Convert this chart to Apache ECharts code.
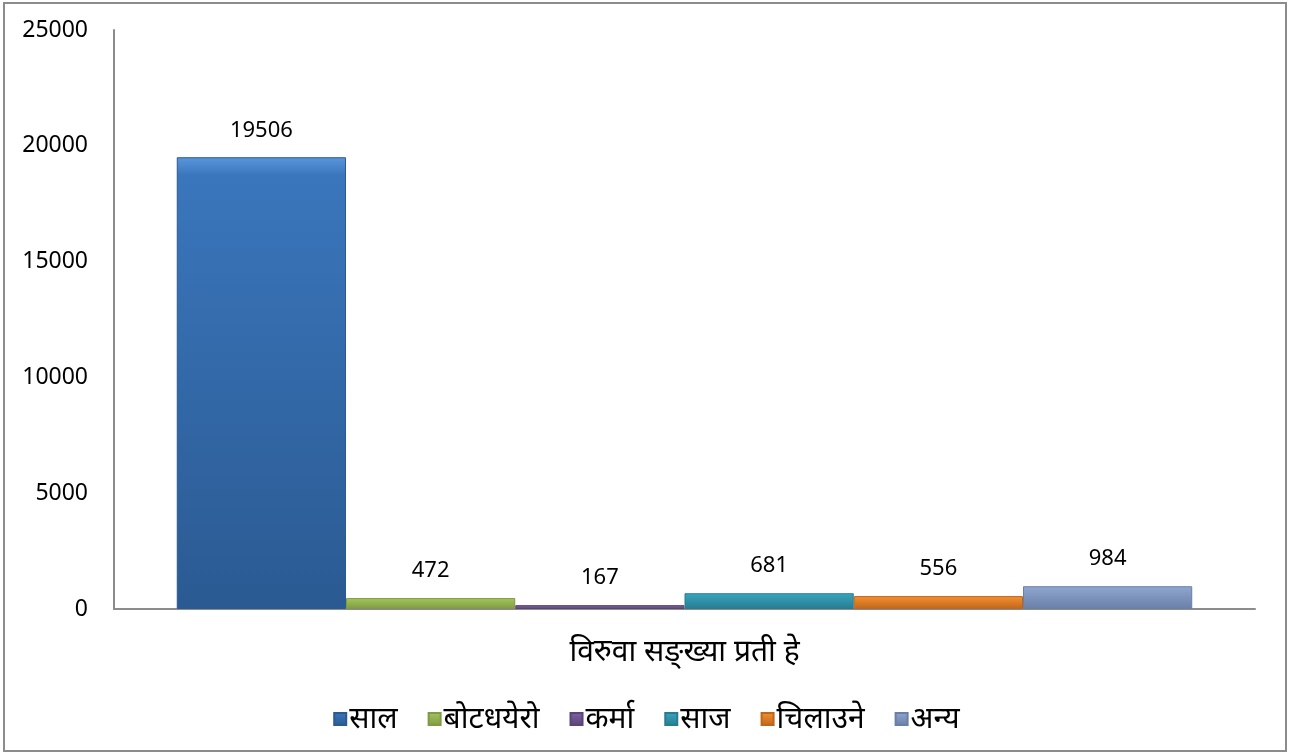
<!DOCTYPE html>
<html>
<head>
<meta charset="utf-8">
<script src="https://cdn.jsdelivr.net/npm/echarts@6/dist/echarts.min.js"></script>
<style>
html,body{margin:0;padding:0;background:#fff;}
#wrap{position:absolute;left:3px;top:2px;width:1284px;height:750px;border:2px solid #8c8c8c;box-sizing:border-box;}
#c{position:absolute;left:0;top:0;width:1293px;height:753px;}
</style>
</head>
<body>
<div id="wrap"></div>
<div id="c"></div>
<script>
const categories = ['विरुवा सङ्ख्या प्रती हे'];
const seriesNames = ['साल', 'बोटधयेरो', 'कर्मा', 'साज', 'चिलाउने', 'अन्य'];
const seriesValues = [19506, 472, 167, 681, 556, 984];
const yTicks = [0, 5000, 10000, 15000, 20000, 25000];

const palette = [
  ['#5a96dc', '#3a76bc', '#2b5a92'],
  ['#c4e07a', '#a2c45c', '#7f9a44'],
  ['#a486cc', '#7d62a0', '#5a4478'],
  ['#7adcf0', '#36a4bc', '#287c90'],
  ['#ffbb6a', '#f2902e', '#c0651c'],
  ['#c8daf4', '#8ea5cf', '#6a7fa6']
];

const font = '"Noto Sans", "Open Sans", Lato, sans-serif';
const chart = echarts.init(document.getElementById('c'));

const series = seriesNames.map((name, i) => ({
  name: name,
  type: 'bar',
  data: [seriesValues[i]],
  barGap: '0%',
  barCategoryGap: '11%',
  itemStyle: {
    color: new echarts.graphic.LinearGradient(0, 0, 0, 1, [
      {offset: 0, color: palette[i][0]},
      {offset: 0.04, color: palette[i][1]},
      {offset: 1, color: palette[i][2]}
    ]),
    borderColor: palette[i][2],
    borderWidth: 1
  },
  label: {
    show: true,
    position: 'top',
    distance: 16,
    color: '#000',
    fontSize: 22,
    fontFamily: font
  }
}));

chart.setOption({
  animation: false,
  color: palette.map(p => p[1]),
  grid: {left: 114, right: 38, top: 30, bottom: 144, containLabel: false},
  legend: {
    bottom: 14,
    left: 'center',
    icon: 'rect',
    itemWidth: 12,
    itemHeight: 12,
    itemGap: 30,
    textStyle: {fontSize: 30, color: '#000', fontFamily: font, padding: [0, 0, 0, -2]},
    data: seriesNames
  },
  xAxis: {
    type: 'category',
    data: categories,
    axisLine: {lineStyle: {color: '#8c8c8c', width: 2}},
    axisTick: {show: false},
    axisLabel: {fontSize: 30, color: '#000', margin: 28, fontFamily: font}
  },
  yAxis: {
    type: 'value',
    min: yTicks[0],
    max: yTicks[yTicks.length - 1],
    interval: yTicks[1] - yTicks[0],
    axisLine: {show: true, lineStyle: {color: '#8c8c8c', width: 2}},
    axisTick: {show: false},
    splitLine: {show: false},
    axisLabel: {fontSize: 23, color: '#000', margin: 26, fontFamily: font, formatter: v => String(v)}
  },
  series: series
});
</script>
</body>
</html>
